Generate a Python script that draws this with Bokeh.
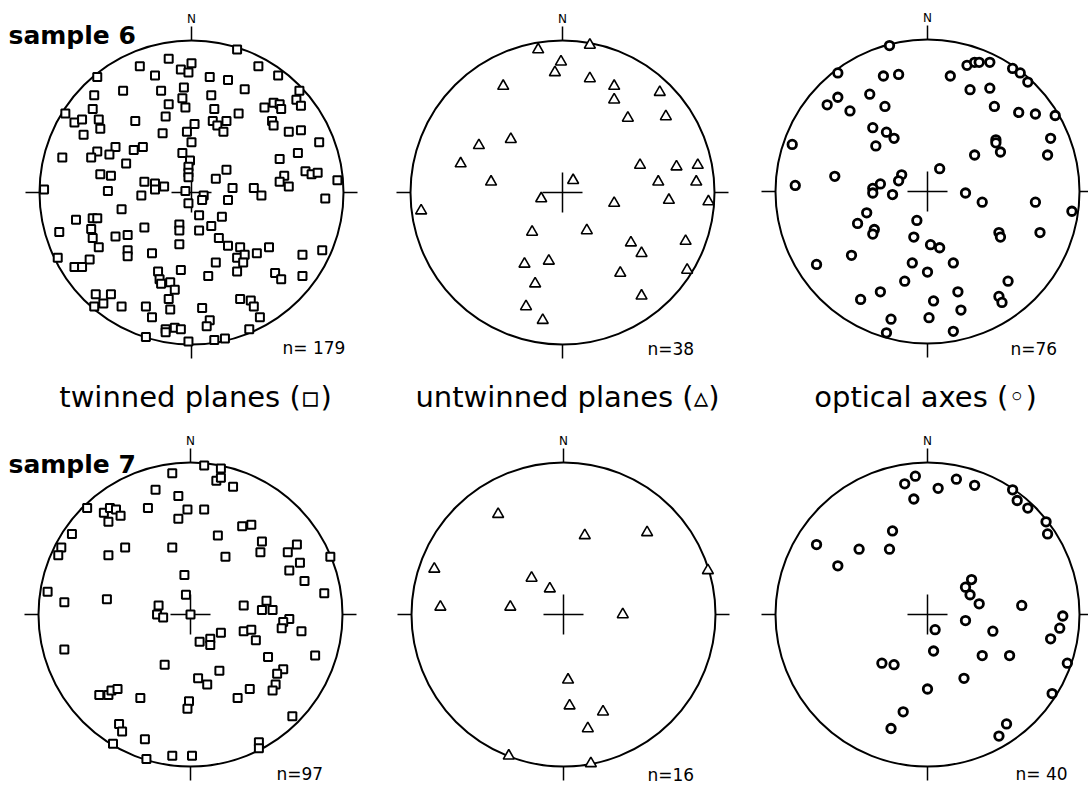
import math
from bokeh.plotting import figure
from bokeh.models import Range1d
from bokeh.embed import file_html
from bokeh.resources import INLINE
from bokeh.core.properties import value

# ---------------- data (stereonet coordinates, unit radius; x = east, y = north) ----------------
s6_twinned_x = [-0.15,-0.34,-0.07,-0.24,-0.62,-0.45,-0.20,-0.05,-0.06,-0.64,-0.15,-0.04,-0.65,-0.83,-0.77,-0.72,-0.61,-0.60,-0.37,-0.17,-0.71,-0.19,-0.03,-0.50,-0.62,-0.54,-0.66,-0.38,-0.32,-0.06,-0.85,-0.43,-0.01,-0.02,-0.02,-0.02,-0.60,-0.53,-0.31,-0.24,-0.24,-0.18,-0.97,
                0.30,0.00,-0.02,0.44,0.12,0.24,0.57,0.35,0.71,0.69,0.72,0.13,0.15,0.48,0.54,0.58,0.59,0.31,0.14,0.17,0.21,0.23,0.02,0.53,0.54,0.64,0.72,0.00,0.84,0.70,0.58,0.23,0.16,0.75,0.79,0.83,0.61,0.58,0.64,0.96,0.27,0.41,
                -0.55,-0.33,-0.04,-0.02,-0.46,-0.76,-0.65,-0.62,-0.66,-0.87,-0.65,-0.61,-0.50,-0.42,-0.31,-0.08,-0.08,-0.08,-0.42,-0.42,-0.26,-0.88,-0.67,-0.77,-0.72,-0.22,-0.21,-0.20,-0.14,-0.11,-0.07,-0.63,-0.53,-0.58,-0.64,-0.46,-0.30,-0.26,-0.15,-0.14,-0.17,-0.17,-0.11,-0.07,-0.30,-0.02,
                0.08,0.07,0.46,0.24,0.88,0.05,0.20,0.13,0.05,0.18,0.24,0.32,0.30,0.35,0.34,0.30,0.43,0.51,0.16,0.11,0.55,0.59,0.73,0.86,0.73,0.32,0.39,0.41,0.45,0.38,0.07,0.12,0.10,0.15,0.22]
s6_twinned_y = [0.88,0.83,0.81,0.77,0.76,0.67,0.67,0.69,0.62,0.64,0.58,0.56,0.55,0.52,0.46,0.48,0.48,0.42,0.47,0.50,0.38,0.39,0.40,0.30,0.27,0.25,0.23,0.28,0.30,0.26,0.23,0.19,0.21,0.17,0.13,0.10,0.12,0.11,0.07,0.06,0.02,0.04,0.02,
                0.94,0.85,0.79,0.83,0.76,0.74,0.77,0.68,0.67,0.61,0.57,0.64,0.55,0.56,0.59,0.58,0.55,0.52,0.47,0.44,0.40,0.47,0.45,0.47,0.44,0.40,0.41,0.33,0.33,0.26,0.22,0.15,0.09,0.14,0.12,0.13,0.11,0.07,0.04,0.08,0.03,0.03,
                0.01,-0.02,0.01,-0.07,-0.11,-0.18,-0.17,-0.17,-0.24,-0.26,-0.30,-0.36,-0.29,-0.28,-0.23,-0.21,-0.25,-0.34,-0.38,-0.42,-0.40,-0.43,-0.44,-0.49,-0.49,-0.52,-0.57,-0.60,-0.59,-0.64,-0.51,-0.67,-0.67,-0.73,-0.75,-0.75,-0.75,-0.82,-0.70,-0.77,-0.90,-0.92,-0.89,-0.90,-0.95,-0.98,
                -0.02,-0.05,-0.02,-0.05,-0.04,-0.15,-0.16,-0.22,-0.25,-0.30,-0.35,-0.36,-0.43,-0.41,-0.46,-0.52,-0.40,-0.36,-0.46,-0.55,-0.53,-0.57,-0.41,-0.38,-0.55,-0.70,-0.71,-0.75,-0.82,-0.90,-0.76,-0.84,-0.88,-0.97,-0.96]

s6_untwinned_x = [-0.16,0.18,-0.01,-0.05,0.18,-0.39,0.34,0.64,0.34,0.43,0.68,-0.34,-0.55,-0.67,0.51,0.75,0.89,-0.47,0.07,0.63,0.88,-0.14,0.34,0.70,0.96,-0.93,-0.20,0.16,0.45,0.81,0.52,-0.25,-0.09,0.38,0.82,-0.18,0.52,-0.24,-0.13]
s6_untwinned_y = [0.94,0.97,0.86,0.79,0.75,0.70,0.70,0.66,0.61,0.49,0.50,0.35,0.31,0.19,0.18,0.17,0.18,0.07,0.08,0.07,0.07,-0.04,-0.07,-0.05,-0.06,-0.12,-0.26,-0.25,-0.33,-0.32,-0.40,-0.47,-0.45,-0.53,-0.51,-0.60,-0.68,-0.75,-0.84]

s6_optical_x = [-0.25,-0.59,-0.29,-0.19,0.15,0.26,0.31,0.34,0.41,0.56,0.61,0.66,0.28,0.41,-0.38,-0.66,-0.59,-0.51,-0.28,0.44,0.60,0.71,0.84,-0.36,-0.27,-0.22,-0.34,-0.89,0.45,0.45,0.48,0.81,0.79,0.31,0.08,-0.17,-0.19,-0.61,-0.87,-0.31,-0.36,-0.36,-0.23,0.25,0.36,0.71,0.95,-0.40,-0.46,-0.07,-0.35,-0.36,0.47,0.48,0.74,-0.09,0.02,0.08,-0.50,-0.73,-0.10,0.17,0.00,0.53,-0.15,-0.31,0.20,-0.44,0.04,0.47,0.49,0.22,-0.24,0.01,-0.27,0.17]
s6_optical_y = [0.96,0.78,0.76,0.77,0.76,0.83,0.85,0.85,0.85,0.81,0.78,0.72,0.67,0.68,0.64,0.57,0.62,0.53,0.56,0.56,0.52,0.51,0.50,0.42,0.39,0.35,0.30,0.31,0.34,0.32,0.26,0.35,0.24,0.24,0.15,0.11,0.07,0.10,0.04,0.05,0.02,-0.01,-0.02,-0.01,-0.07,-0.07,-0.13,-0.14,-0.21,-0.19,-0.25,-0.28,-0.27,-0.30,-0.27,-0.30,-0.35,-0.37,-0.42,-0.48,-0.47,-0.47,-0.53,-0.59,-0.59,-0.66,-0.66,-0.71,-0.72,-0.69,-0.73,-0.78,-0.84,-0.83,-0.93,-0.92]

s7_twinned_x = [-0.12,-0.23,-0.08,-0.02,-0.08,-0.28,-0.68,-0.57,-0.53,-0.49,-0.46,-0.54,-0.78,-0.85,-0.87,-0.43,-0.54,-0.12,-0.04,-0.94,-0.83,-0.55,-0.03,-0.21,-0.22,-0.18,-0.83,-0.17,-0.60,-0.54,-0.52,-0.48,-0.33,-0.47,-0.45,-0.51,-0.30,-0.29,-0.12,
                0.09,0.20,0.17,0.20,0.28,0.09,0.34,0.40,0.18,0.47,0.46,0.70,0.64,0.23,0.72,0.65,0.75,0.92,0.88,0.00,0.35,0.50,0.47,0.54,0.65,0.61,0.60,0.73,0.20,0.06,0.13,0.13,0.35,0.40,0.43,0.51,0.82,0.19,0.05,0.11,0.61,0.57,0.56,0.54,0.39,0.31,-0.01,-0.02,0.67,0.45,0.45,0.01]
s7_twinned_y = [0.93,0.82,0.78,0.69,0.63,0.70,0.70,0.67,0.70,0.69,0.65,0.61,0.53,0.44,0.39,0.44,0.39,0.44,0.26,0.15,0.08,0.10,0.13,0.06,0.00,-0.02,-0.23,-0.33,-0.53,-0.53,-0.50,-0.49,-0.55,-0.72,-0.77,-0.85,-0.82,-0.95,-0.93,
                0.98,0.96,0.88,0.90,0.84,0.69,0.58,0.59,0.52,0.48,0.41,0.46,0.41,0.38,0.34,0.29,0.22,0.38,0.14,0.00,0.06,0.09,0.03,0.03,-0.03,-0.05,-0.09,-0.11,-0.12,-0.18,-0.16,-0.20,-0.11,-0.10,-0.17,-0.28,-0.27,-0.37,-0.42,-0.46,-0.36,-0.39,-0.46,-0.50,-0.49,-0.55,-0.57,-0.62,-0.67,-0.84,-0.88,-0.93]

s7_untwinned_x = [-0.43,0.14,0.55,-0.85,0.95,-0.21,-0.09,-0.81,-0.35,0.39,0.03,0.04,0.26,0.16,-0.36,0.18]
s7_untwinned_y = [0.66,0.52,0.54,0.30,0.29,0.24,0.17,0.05,0.05,0.00,-0.43,-0.60,-0.64,-0.75,-0.93,-0.98]

s7_optical_x = [-0.15,-0.08,0.07,0.19,0.31,-0.09,0.56,0.59,0.66,0.78,0.79,-0.23,-0.73,-0.45,-0.25,-0.59,0.29,0.25,0.28,0.34,0.62,0.89,0.87,0.81,0.25,0.43,0.05,0.04,0.36,0.54,0.92,-0.30,-0.22,0.24,0.00,0.82,-0.16,-0.24,0.52,0.47]
s7_optical_y = [0.86,0.91,0.83,0.89,0.85,0.76,0.82,0.75,0.70,0.61,0.53,0.55,0.46,0.43,0.43,0.32,0.23,0.18,0.13,0.07,0.06,-0.01,-0.09,-0.16,-0.04,-0.11,-0.10,-0.24,-0.27,-0.27,-0.32,-0.32,-0.33,-0.42,-0.49,-0.52,-0.64,-0.75,-0.72,-0.80]

row_titles = ["sample 6", "sample 7"]
column_titles = ["twinned planes (\u25ab)", "untwinned planes (\u25b5)", "optical axes (\u25e6)"]
n_labels = ["n= 179", "n=38", "n=76", "n=97", "n=16", "n= 40"]

# ---------------- layout / style ----------------
R = 152
centers = [(191, 192), (562, 192), (927, 191), (190, 614), (563, 614), (927, 614)]
n_label_pos = [(282, 347), (647, 348), (1010, 348), (276, 773), (647, 774), (1015, 773)]
series = [(s6_twinned_x, s6_twinned_y, "square"), (s6_untwinned_x, s6_untwinned_y, "triangle"),
          (s6_optical_x, s6_optical_y, "circle"), (s7_twinned_x, s7_twinned_y, "square"),
          (s7_untwinned_x, s7_untwinned_y, "triangle"), (s7_optical_x, s7_optical_y, "circle")]
marker_style = {"square": dict(size=8, line_width=2.0),
                "triangle": dict(size=11, line_width=1.6),
                "circle": dict(size=8.5, line_width=2.8)}
FONT = value("DejaVu Sans")

W, H = 1088, 791
p = figure(width=W, height=H, x_range=Range1d(0, W), y_range=Range1d(H, 0),
           output_backend="svg", toolbar_location=None, min_border=0,
           x_axis_type=None, y_axis_type=None)
p.grid.visible = False
p.outline_line_color = None
p.background_fill_color = "white"
p.border_fill_color = "white"

TICK = 14
ARM = 20
for (cx, cy), (xs, ys, mk), ntxt, (nx, ny) in zip(centers, series, n_labels, n_label_pos):
    p.circle(x=[cx], y=[cy], radius=R, fill_color=None, line_color="black", line_width=2)
    # N, S, W, E ticks
    p.segment(x0=[cx, cx, cx - R - TICK, cx + R], y0=[cy - R, cy + R, cy, cy],
              x1=[cx, cx, cx - R, cx + R + TICK], y1=[cy - R - TICK, cy + R + TICK, cy, cy],
              line_color="black", line_width=1.5)
    # centre cross
    p.segment(x0=[cx - ARM, cx], y0=[cy, cy - ARM], x1=[cx + ARM, cx], y1=[cy, cy + ARM],
              line_color="black", line_width=1.5)
    p.text(x=[cx], y=[cy - R - TICK - 1], text=["N"], text_font=FONT, text_font_size="12px",
           text_align="center", text_baseline="bottom", text_color="black")
    px = [cx + v * R for v in xs]
    py = [cy - v * R for v in ys]
    p.scatter(x=px, y=py, marker=mk, fill_color="white", line_color="black", **marker_style[mk])
    p.text(x=[nx], y=[ny], text=[ntxt], text_font=FONT, text_font_size="17px",
           text_align="left", text_baseline="alphabetic", text_color="black")

p.text(x=[8, 8], y=[35, 464], text=row_titles, text_font=FONT, text_font_size="25px",
       text_font_style="bold", text_align="left", text_baseline="alphabetic", text_color="black")
p.text(x=[195, 567, 925], y=[396, 396, 396], text=column_titles, text_font=FONT,
       text_font_size="29px", text_align="center", text_baseline="alphabetic", text_color="black")

open("out.html", "w").write(file_html(p, INLINE))
